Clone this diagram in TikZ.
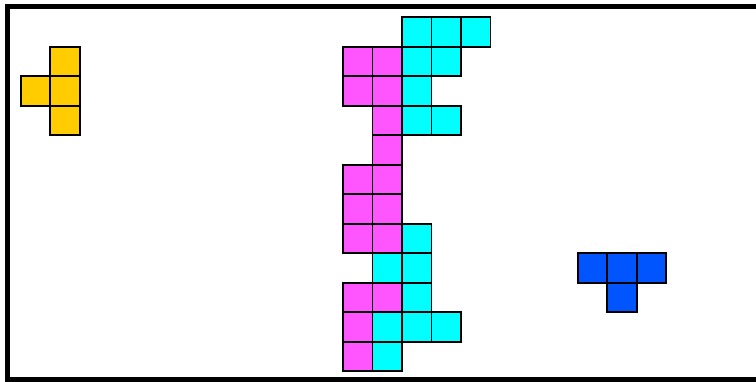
\documentclass[tikz,border=0pt]{standalone}
\usepackage{tikz}
\definecolor{tyellow}{RGB}{255,204,0}
\definecolor{tmagenta}{RGB}{255,85,255}
\definecolor{tcyan}{RGB}{0,255,255}
\definecolor{tblue}{RGB}{0,85,255}

\begin{document}
\begin{tikzpicture}[x=1pt,y=-1pt]
          \tikzstyle{cell}=[draw=black,line width=1.6pt,minimum size=29.5pt,inner sep=0pt,outer sep=0pt]
          \tikzstyle{ycell}=[cell,fill=tyellow]
          \tikzstyle{mcell}=[cell,fill=tmagenta]
          \tikzstyle{ccell}=[cell,fill=tcyan]
          \tikzstyle{bcell}=[cell,fill=tblue]
          \useasboundingbox (0,0) rectangle (756,381);
          % well frame, open to the right
          \draw[line width=5pt] (770,6) -- (7.5,6) -- (7.5,379) -- (770,379);
          % falling piece
          \foreach \c/\r in {1/1,0/2,1/2,1/3}
            \node[ycell] (y-\c-\r) at ({35.45+29.5*\c},{32+29.5*\r}) {};
          % stack
          \foreach \c/\r in {0/1,1/1,0/2,1/2,1/3,1/4,0/5,1/5,0/6,1/6,0/7,1/7,0/9,1/9,0/10,0/11}
            \node[mcell] (m-\c-\r) at ({357.75+29.5*\c},{32+29.5*\r}) {};
          \foreach \c/\r in {2/0,3/0,4/0,2/1,3/1,2/2,2/3,3/3,2/7,1/8,2/8,2/9,1/10,2/10,3/10,1/11}
            \node[ccell] (c-\c-\r) at ({357.75+29.5*\c},{32+29.5*\r}) {};
          % next piece
          \foreach \c/\r in {0/8,1/8,2/8,1/9}
            \node[bcell] (b-\c-\r) at ({592.45+29.5*\c},{32+29.5*\r}) {};
        \end{tikzpicture}
\end{document}
